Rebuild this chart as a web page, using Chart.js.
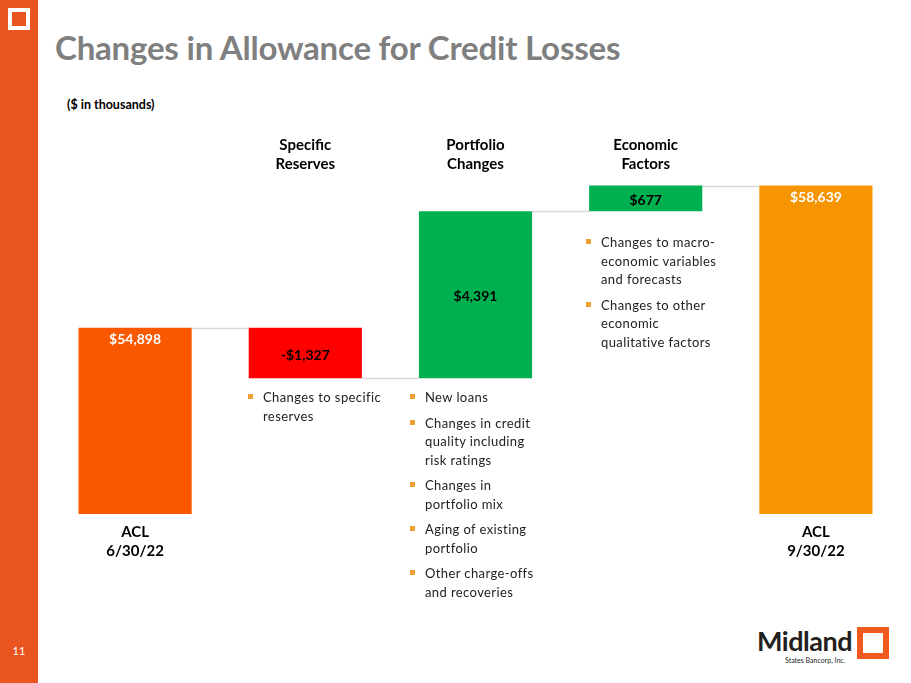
<!DOCTYPE html>
<html>
<head>
<meta charset="utf-8">
<script src="https://cdn.jsdelivr.net/npm/chart.js@4.4.0/dist/chart.umd.min.js"></script>
<style>
  body { margin: 0; width: 911px; height: 683px; background: #fff; position: relative; overflow: hidden; font-family: Lato, "Open Sans", sans-serif; }
  .sidebar { position: absolute; left: 0; top: 0; width: 38px; height: 683px; background: #E9541F; }
  .sidebar .icon { position: absolute; left: 8px; top: 8px; width: 14px; height: 14px; border: 4px solid #fff; }
  .sidebar .page { position: absolute; left: 0; width: 38px; top: 644px; text-align: center; color: #fff; font-size: 11px; }
  h1 { position: absolute; left: 55px; top: 27px; margin: 0; font-size: 33px; font-weight: 700; color: #7F7F7F; letter-spacing: -0.2px; }
  .units { position: absolute; left: 67px; top: 97px; font-size: 12.5px; font-weight: 700; color: #000; }
  #wrap { position: absolute; left: 50px; top: 130px; width: 851px; height: 439px; }
  .bullets { position: absolute; font-size: 13px; color: #222; line-height: 18.5px; letter-spacing: 0.4px; }
  .bullets div { position: relative; padding-left: 15px; margin-bottom: 7px; }
  .bullets div::before { content: ""; position: absolute; left: 0; top: 6px; width: 5px; height: 5px; background: #F0A030; }
  .logo { position: absolute; left: 757px; top: 624px; }
  .logo .name { position: absolute; left: 0; top: 0; font-size: 27px; font-weight: 700; color: #231F20; letter-spacing: -0.5px; }
  .logo .sub { position: absolute; left: 28px; top: 32px; font-size: 7px; color: #231F20; white-space: nowrap; }
  .logo .box { position: absolute; left: 100px; top: 3px; width: 20px; height: 20px; border: 6px solid #F05A1E; }
</style>
</head>
<body>
<div class="sidebar"><div class="icon"></div><div class="page">11</div></div>
<h1>Changes in Allowance for Credit Losses</h1>
<div class="units">($ in thousands)</div>
<div id="wrap"><canvas id="chart"></canvas></div>

<div class="bullets" style="left:248px; top:388px; width:160px;">
  <div>Changes to specific<br>reserves</div>
</div>
<div class="bullets" style="left:410px; top:388px; width:160px;">
  <div>New loans</div>
  <div>Changes in credit<br>quality including<br>risk ratings</div>
  <div>Changes in<br>portfolio mix</div>
  <div>Aging of existing<br>portfolio</div>
  <div>Other charge-offs<br>and recoveries</div>
</div>
<div class="bullets" style="left:586px; top:233px; width:160px;">
  <div>Changes to macro-<br>economic variables<br>and forecasts</div>
  <div>Changes to other<br>economic<br>qualitative factors</div>
</div>

<div class="logo">
  <div class="name">Midland</div>
  <div class="sub">States Bancorp, Inc.</div>
  <div class="box"></div>
</div>

<script>
// Dados do gráfico
const categories = ['ACL 6/30/22', 'Specific Reserves', 'Portfolio Changes', 'Economic Factors', 'ACL 9/30/22'];
const topLabels = ['', ['Specific', 'Reserves'], ['Portfolio', 'Changes'], ['Economic', 'Factors'], ''];
const bottomLabels = [['ACL', '6/30/22'], '', '', '', ['ACL', '9/30/22']];
const values = [54898, -1327, 4391, 677, 58639];
const isTotal = [true, false, false, false, true];
const barColors = ['#F95800', '#FF0000', '#00B050', '#00B050', '#F79500'];
const labelColors = ['#FFFFFF', '#000000', '#000000', '#000000', '#FFFFFF'];
const axisMin = 50000;
const axisMax = 58800;

// Monta as barras flutuantes (cascata)
let running = 0;
const ranges = values.map((v, i) => {
    if (isTotal[i]) {
        running = v;
        return [axisMin, v];
    }
    const start = running;
    running += v;
    return [start, running];
});
const levels = ranges.map((r, i) => isTotal[i] ? r[1] : (values[i] < 0 ? Math.min(r[0], r[1]) : Math.max(r[0], r[1])));

function fmt(v) {
    const s = '$' + Math.abs(v).toLocaleString('en-US');
    return v < 0 ? '-' + s : s;
}

// Linhas de ligação entre as barras
const connectorPlugin = {
    id: 'connectors',
    beforeDatasetsDraw(chart) {
        const ctx = chart.ctx;
        const meta = chart.getDatasetMeta(0);
        const y = chart.scales.y;
        ctx.save();
        ctx.strokeStyle = '#D9D9D9';
        ctx.lineWidth = 1.5;
        for (let i = 0; i < meta.data.length - 1; i++) {
            const a = meta.data[i], b = meta.data[i + 1];
            const py = Math.round(y.getPixelForValue(levels[i])) + 0.5;
            ctx.beginPath();
            ctx.moveTo(a.x + a.width / 2, py);
            ctx.lineTo(b.x - b.width / 2, py);
            ctx.stroke();
        }
        ctx.restore();
    }
};

// Rótulos de valor nas barras
const valueLabelPlugin = {
    id: 'valueLabels',
    afterDatasetsDraw(chart) {
        const ctx = chart.ctx;
        const meta = chart.getDatasetMeta(0);
        ctx.save();
        ctx.font = 'bold 14px Lato, "Open Sans", sans-serif';
        ctx.textAlign = 'center';
        ctx.textBaseline = 'middle';
        meta.data.forEach((bar, i) => {
            const top = Math.min(bar.y, bar.base);
            const bottom = Math.max(bar.y, bar.base);
            const ty = isTotal[i] ? top + 12 : (top + bottom) / 2 + 2;
            ctx.fillStyle = labelColors[i];
            ctx.fillText(fmt(values[i]), bar.x, ty);
        });
        ctx.restore();
    }
};

new Chart(document.getElementById('chart'), {
    type: 'bar',
    data: {
        labels: categories,
        datasets: [{
            data: ranges,
            backgroundColor: barColors,
            borderWidth: 0,
            barPercentage: 0.665,
            categoryPercentage: 1
        }]
    },
    options: {
        responsive: true,
        maintainAspectRatio: false,
        animation: false,
        layout: { padding: 0 },
        plugins: { legend: { display: false }, tooltip: { enabled: false } },
        scales: {
            x: {
                position: 'bottom',
                grid: { display: false, drawTicks: false },
                border: { display: false },
                ticks: {
                    padding: 8,
                    color: '#000',
                    font: { family: 'Lato', size: 15, weight: 'bold', lineHeight: 1.3 },
                    callback: (v, i) => bottomLabels[i]
                }
            },
            xTop: {
                type: 'category',
                position: 'top',
                labels: categories,
                grid: { display: false, drawTicks: false },
                border: { display: false },
                ticks: {
                    padding: 6,
                    color: '#000',
                    font: { family: 'Lato', size: 15, weight: 'bold', lineHeight: 1.25 },
                    callback: (v, i) => topLabels[i]
                }
            },
            y: {
                display: false,
                min: axisMin,
                max: axisMax
            }
        }
    },
    plugins: [connectorPlugin, valueLabelPlugin]
});
</script>
</body>
</html>
